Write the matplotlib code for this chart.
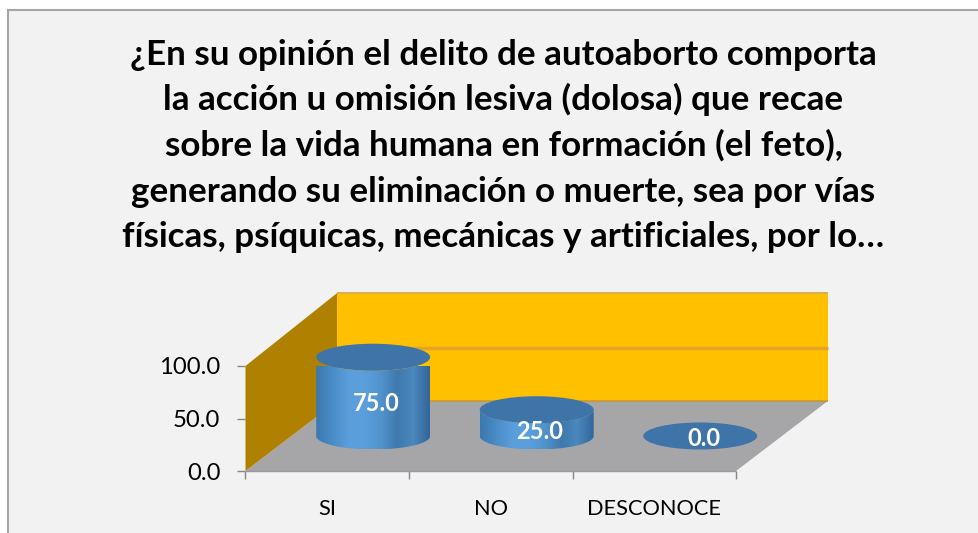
"""Grafico de cilindros 3D (SI / NO / DESCONOCE) con matplotlib."""
import matplotlib

matplotlib.use("Agg")
import matplotlib.pyplot as plt
import numpy as np
from matplotlib.colors import LinearSegmentedColormap
from matplotlib.patches import Ellipse, PathPatch, Polygon, Rectangle
from matplotlib.path import Path

TITLE_LINES = [
    "¿En su opinión el delito de autoaborto comporta",
    "la acción u omisión lesiva (dolosa) que recae",
    "sobre la vida humana en formación (el feto),",
    "generando su eliminación o muerte, sea por vías",
    "físicas, psíquicas, mecánicas y artificiales, por lo…",
]
categories = ["SI", "NO", "DESCONOCE"]
values = [75.0, 25.0, 0.0]
y_ticks = [0, 50, 100]

W, H = 979, 533
# desplazamiento de profundidad, en unidades de datos
DX = 0.562
DY = 66.7
CYL_W = 0.697
CYL_H = 25.7
# altura de cada etiqueta respecto de la base del cilindro
LABEL_DY = [31.4, 4.7, -2.0]

plt.rcParams["font.family"] = ["Lato", "DejaVu Sans"]

fig = plt.figure(figsize=(W / 100, H / 100), dpi=100, facecolor="white")

# marco del grafico: solo borde izquierdo y superior, el resto queda recortado
bg = fig.add_axes([0, 0, 1, 1], zorder=0)
bg.set_xlim(0, W)
bg.set_ylim(H, 0)
bg.axis("off")
bg.add_patch(Rectangle((8, 10), W - 8, H - 10, fc="#f2f2f2", ec="none"))
bg.plot([8, 8], [9, H], color="#a6a6a6", lw=1.5, solid_capstyle="butt")
bg.plot([7, W], [10, 10], color="#a6a6a6", lw=1.5, solid_capstyle="butt")

for i, line in enumerate(TITLE_LINES):
    bg.text(503.5, 65 + i * 45.5, line, ha="center", va="baseline",
            fontsize=25.2, fontweight="bold", color="black")

ax = fig.add_axes([245.5 / W, 1 - 471 / H, 490.5 / W, 105 / H], zorder=1)
ax.patch.set_alpha(0)
ax.set_xlim(0, 3)
ax.set_ylim(0, 100)


def depth(x, y, d):
    return x + d * DX, y + d * DY


# piso
ax.add_patch(Polygon([depth(0, 0, 0), depth(3, 0, 0), depth(3, 0, 1), depth(0, 0, 1)],
                     fc="#a6a6a9", ec="none", clip_on=False, zorder=1))
# pared lateral
ax.add_patch(Polygon([depth(0, 0, 0), depth(0, 100, 0), depth(0, 103, 1), depth(0, 0, 1)],
                     fc="#b08000", ec="none", clip_on=False, zorder=1))
# pared del fondo
ax.add_patch(Polygon([depth(0, 0, 1), depth(3, 0, 1), depth(3, 103, 1), depth(0, 103, 1)],
                     fc="#ffc000", ec="none", clip_on=False, zorder=1))
# lineas de grilla en el fondo
x0, y0 = depth(0, 0, 1)
x1, _ = depth(3, 0, 1)
ax.plot([x0, x1], [y0, y0], color="#c89a30", lw=1.2, clip_on=False, zorder=2, solid_capstyle="butt")
ax.plot([x0, x1], [y0 + 50, y0 + 50], color="#e5a428", lw=2.5, clip_on=False, zorder=2, solid_capstyle="butt")
ax.plot([x0, x1], [y0 + 103, y0 + 103], color="#d8b050", lw=1.5, clip_on=False, zorder=2, solid_capstyle="butt")
ax.plot([0, 3], [0, 0], color="#9a9a9a", lw=1, clip_on=False, zorder=2, solid_capstyle="butt")

side_cmap = LinearSegmentedColormap.from_list(
    "cyl", ["#3a78ae", "#4a8cc6", "#5a9fdc", "#5a9fdc", "#5193cc", "#3f79ae", "#4a88bd", "#33669a"])
grad = np.linspace(0, 1, 256).reshape(1, -1)

for i, v in enumerate(values):
    cx, cy = depth(i + 0.5, 0, 0.5)
    a, b = CYL_W / 2, CYL_H / 2
    if v > 0:
        t = np.linspace(np.pi, 2 * np.pi, 60)
        bottom = np.column_stack([cx + a * np.cos(t), cy + b * np.sin(t)])
        top = np.column_stack([cx + a * np.cos(t[::-1]), cy + v + b * np.sin(t[::-1])])
        body = np.vstack([bottom, top, bottom[:1]])
        patch = PathPatch(Path(body), fc="none", ec="none", transform=ax.transData, zorder=3)
        ax.add_patch(patch)
        im = ax.imshow(grad, extent=[cx - a, cx + a, cy - b, cy + v], cmap=side_cmap,
                       aspect="auto", zorder=3)
        im.set_clip_path(patch)
    ax.add_patch(Ellipse((cx, cy + v), CYL_W, CYL_H, fc="#3f74a8", ec="none",
                         clip_on=False, zorder=4))
    ax.text(cx + 0.02, cy + LABEL_DY[i], f"{v:.1f}", ha="center", va="center",
            fontsize=17, fontweight="bold", color="white", zorder=5)

ax.set_xlim(0, 3)
ax.set_ylim(0, 100)

for side in ["top", "right", "bottom", "left"]:
    ax.spines[side].set_visible(False)
ax.set_yticks(y_ticks)
ax.set_yticklabels([f"{t:.1f}" for t in y_ticks])
ax.set_xticks([0, 1, 2, 3])
ax.set_xticklabels([])
ax.set_xticks([0.5, 1.5, 2.5], minor=True)
ax.set_xticklabels(categories, minor=True)
ax.tick_params(axis="y", length=6, width=1, color="#868686", labelsize=17.2, pad=12, labelcolor="black")
ax.tick_params(axis="x", which="major", length=6, width=1, color="#868686")
ax.tick_params(axis="x", which="minor", length=0, labelsize=15.7, pad=20, labelcolor="black")

fig.savefig("out.png", dpi=100, facecolor="white")
